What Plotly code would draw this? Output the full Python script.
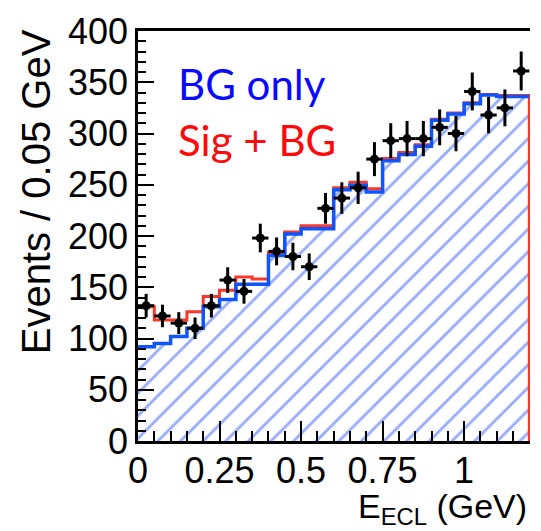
import plotly.graph_objects as go

# E_ECL histogram: 24 bins of 0.05 GeV from 0 to 1.2 GeV
bin_edges = [round(0.05 * i, 2) for i in range(25)]
bin_centers = [round(0.05 * i + 0.025, 3) for i in range(24)]

bg_only = [92, 95, 102, 110, 131, 138, 153, 153, 181, 202, 207, 207,
           245, 249.5, 243, 273.5, 279.5, 287.5, 313, 319, 329, 337.5, 336, 336]
sig_plus_bg = [131, 118, 118, 126, 141, 147, 160, 158, 184, 204, 210, 210,
               247, 252.5, 246, 275.5, 281.5, 289, 314, 320, 330, 338, 337, 337]

data_counts = [132, 122, 115, 110, 132, 157, 146, 198, 185, 180, 170, 227,
               237, 247, 275, 293, 295, 295, 306, 300, 341, 318, 325, 361]
data_err = [11.5, 11, 10.7, 10.5, 11.5, 12.5, 12, 14, 13.6, 13.4, 13, 15,
            15.4, 15.7, 16.6, 17.1, 17.2, 17.2, 17.5, 17.3, 18.5, 17.8, 18, 19]
half_bin = [0.025] * 24

y_ticks = [0, 50, 100, 150, 200, 250, 300, 350, 400]
x_ticks = [0, 0.25, 0.5, 0.75, 1]
x_tick_text = ["0", "0.25", "0.5", "0.75", "1"]

BLUE_LINE = "rgb(15,85,255)"
RED_LINE = "rgb(250,55,40)"
HATCH = "rgb(50,90,240)"
AXIS_FONT = "Arial"

fig = go.Figure()

# hatched background fill
fig.add_trace(go.Scatter(
    x=bin_edges, y=bg_only + [bg_only[-1]],
    mode="lines", line=dict(shape="hv", width=0, color=BLUE_LINE),
    fill="tozeroy", fillcolor="white",
    fillpattern=dict(shape="/", fgcolor=HATCH, bgcolor="white",
                     size=16, solidity=0.18),
    hoverinfo="skip", showlegend=False,
))

# signal + background outline (closed down to zero on the right edge)
fig.add_trace(go.Scatter(
    x=bin_edges + [bin_edges[-1]], y=sig_plus_bg + [sig_plus_bg[-1], 0],
    mode="lines", line=dict(shape="hv", width=3, color=RED_LINE),
    hoverinfo="skip", showlegend=False,
))

# background-only outline
fig.add_trace(go.Scatter(
    x=bin_edges, y=bg_only + [bg_only[-1]],
    mode="lines", line=dict(shape="hv", width=3.5, color=BLUE_LINE),
    hoverinfo="skip", showlegend=False,
))

# data points
fig.add_trace(go.Scatter(
    x=bin_centers, y=data_counts, mode="markers",
    marker=dict(color="black", size=9, symbol="circle"),
    error_y=dict(type="data", array=data_err, color="black", thickness=3, width=0),
    error_x=dict(type="data", array=half_bin, color="black", thickness=3, width=0),
    showlegend=False,
))

tick_font = dict(family=AXIS_FONT, size=36, color="black")

fig.update_layout(
    width=541, height=531,
    margin=dict(l=138, r=11, t=20, b=90),
    paper_bgcolor="white", plot_bgcolor="white",
    showlegend=False,
    xaxis=dict(
        range=[0, 1.202], tickvals=x_ticks, ticktext=x_tick_text,
        ticks="inside", ticklen=20, tickwidth=2, tickcolor="black",
        minor=dict(ticks="inside", ticklen=10, tickwidth=1.5, tickcolor="black", dtick=0.05, tick0=0),
        showline=True, linecolor="black", linewidth=2.5, mirror=True,
        showgrid=False, zeroline=False, tickfont=tick_font,
        ticklabeloverflow="allow", ticklabelstandoff=-4,
    ),
    yaxis=dict(
        range=[0, 400], tickvals=y_ticks,
        ticks="inside", ticklen=16, tickwidth=2, tickcolor="black",
        minor=dict(ticks="inside", ticklen=8, tickwidth=1.5, tickcolor="black", dtick=10, tick0=0),
        showline=True, linecolor="black", linewidth=2.5, mirror=False,
        showgrid=False, zeroline=False, tickfont=tick_font,
        ticklabeloverflow="allow",
    ),
    annotations=[
        dict(text="Events / 0.05 GeV", textangle=-90, xref="paper", yref="paper",
             x=-0.26, y=1.008, xanchor="center", yanchor="top", showarrow=False,
             font=dict(family=AXIS_FONT, size=40, color="black")),
        dict(text="E<sub>ECL</sub> (GeV)", xref="paper", yref="paper",
             x=0.997, y=-0.108, xanchor="right", yanchor="top", showarrow=False,
             font=dict(family=AXIS_FONT, size=34, color="black")),
        dict(text="BG only", xref="paper", yref="paper",
             x=0.098, y=0.87, xanchor="left", yanchor="middle", showarrow=False,
             font=dict(family="Lato, sans-serif", size=42, color="rgb(10,10,255)")),
        dict(text="Sig + BG", xref="paper", yref="paper",
             x=0.098, y=0.733, xanchor="left", yanchor="middle", showarrow=False,
             font=dict(family="Lato, sans-serif", size=42, color="rgb(255,10,10)")),
    ],
)

fig.write_html("out.html")
